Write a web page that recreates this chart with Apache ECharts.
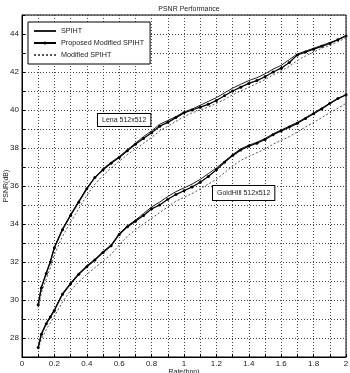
<!DOCTYPE html>
<html><head><meta charset="utf-8">
<script src="https://cdn.jsdelivr.net/npm/echarts@6/dist/echarts.min.js"></script>
<style>html,body{margin:0;padding:0;background:#fff}#c{width:350px;height:373px}</style>
</head><body><div id="c"></div>
<script>
var rates = [0.1,0.12,0.15,0.175,0.2,0.25,0.3,0.35,0.4,0.45,0.5,0.55,0.6,0.65,0.7,0.75,0.8,0.85,0.9,0.95,1.0,1.05,1.1,1.15,1.2,1.25,1.3,1.35,1.4,1.45,1.5,1.55,1.6,1.65,1.7,1.75,1.8,1.85,1.9,1.95,2.0];

var lenaSpiht = [29.8,30.7,31.45,32.05,32.8,33.75,34.5,35.2,35.9,36.45,36.9,37.25,37.55,37.9,38.25,38.6,38.9,39.25,39.45,39.65,39.9,40.05,40.25,40.45,40.65,40.9,41.15,41.35,41.55,41.7,41.9,42.15,42.35,42.65,42.95,43.1,43.25,43.4,43.55,43.7,43.9];
var lenaProposed = [29.75,30.65,31.4,32.0,32.75,33.7,34.45,35.15,35.85,36.45,36.85,37.2,37.5,37.85,38.2,38.5,38.8,39.15,39.35,39.6,39.85,40.0,40.15,40.3,40.5,40.75,41.0,41.2,41.4,41.55,41.75,42.0,42.2,42.5,42.9,43.05,43.2,43.35,43.5,43.7,43.9];
var lenaModified = [29.6,30.4,31.1,31.7,32.4,33.35,34.1,34.8,35.5,36.1,36.55,36.95,37.3,37.65,37.95,38.25,38.55,38.9,39.15,39.4,39.65,39.85,40.0,40.15,40.35,40.55,40.8,41.0,41.2,41.4,41.6,41.85,42.05,42.3,42.6,42.85,43.05,43.25,43.4,43.6,43.8];

var goldSpiht = [27.55,28.25,28.8,29.15,29.5,30.35,30.9,31.4,31.8,32.15,32.55,32.9,33.5,33.9,34.2,34.55,34.9,35.15,35.45,35.7,35.9,36.1,36.35,36.65,36.95,37.3,37.65,37.95,38.15,38.3,38.5,38.75,38.95,39.15,39.35,39.6,39.85,40.1,40.35,40.6,40.8];
var goldProposed = [27.5,28.2,28.75,29.1,29.45,30.3,30.85,31.35,31.75,32.1,32.5,32.85,33.45,33.85,34.15,34.45,34.8,35.0,35.3,35.55,35.75,35.95,36.2,36.5,36.85,37.25,37.6,37.9,38.1,38.25,38.45,38.7,38.9,39.1,39.3,39.55,39.8,40.05,40.35,40.6,40.8];
var goldModified = [27.4,27.95,28.45,28.8,29.15,29.9,30.5,30.95,31.35,31.7,32.05,32.4,32.9,33.35,33.7,34.0,34.3,34.6,34.9,35.2,35.4,35.6,35.85,36.1,36.35,36.7,37.05,37.35,37.55,37.75,37.95,38.2,38.4,38.6,38.85,39.1,39.35,39.6,39.85,40.1,40.35];

var xTickLabels = ['0','0.2','0.4','0.6','0.8','1','1.2','1.4','1.6','1.8','2'];
var yTickLabels = ['28','30','32','34','36','38','40','42','44'];
var seriesNames = ['SPIHT','Proposed Modified SPIHT','Modified SPIHT'];
var chartTitle = 'PSNR Performance';
var xName = 'Rate(bpp)';
var yName = 'PSNR(dB)';
var lenaLabel = 'Lena 512x512';
var goldLabel = 'GoldHill 512x512';

function pairs(v){ return rates.map(function(r,i){ return [r, v[i]]; }); }
var FONT = 'Liberation Sans, Arial, sans-serif';

var chart = echarts.init(document.getElementById('c'), null, {renderer:'canvas'});
function spiht(name, data){
  return {name: name, type:'line', data: data, symbol:'none',
    lineStyle:{color:'#222', width:1}, itemStyle:{color:'#222'}, z:3, animation:false};
}
function proposed(name, data){
  return {name: name, type:'line', data: data, symbol:'circle', symbolSize:3, showAllSymbol:true,
    lineStyle:{color:'#000', width:1.3}, itemStyle:{color:'#000'}, z:4, animation:false};
}
function modified(name, data){
  return {name: name, type:'line', data: data, symbol:'none',
    lineStyle:{color:'#555', width:1, type:[2,2]}, itemStyle:{color:'#555'}, z:2, animation:false};
}

chart.setOption({
  backgroundColor:'#fff',
  animation:false,
  title:{text: chartTitle, left: 184, top: 1, textAlign:'center',
    textStyle:{fontSize:7, fontWeight:'normal', color:'#222', fontFamily:FONT}},
  legend:{
    data:[
      {name: seriesNames[0], itemStyle:{opacity:0}},
      {name: seriesNames[1]},
      {name: seriesNames[2], itemStyle:{opacity:0}}
    ],
    orient:'vertical', left:28, top:22, padding:[5,6,5,5], itemGap:4,
    itemWidth:22, itemHeight:4, backgroundColor:'#fff', borderColor:'#000', borderWidth:1,
    textStyle:{fontSize:7.2, lineHeight:8, color:'#222', fontFamily:FONT}
  },
  grid:{left:22, right:4, top:15, bottom:16, outerBoundsMode:'none', containLabel:false,
    show:true, borderColor:'#000', borderWidth:1, backgroundColor:'#fff'},
  xAxis:{type:'value', min:0, max:2, interval:0.1,
    name: xName, nameLocation:'middle', nameGap:12, nameMoveOverlap:false,
    nameTextStyle:{fontSize:7, color:'#222', fontFamily:FONT},
    axisLine:{show:true, lineStyle:{color:'#000', width:1}},
    axisTick:{show:true, inside:true, length:3, lineStyle:{color:'#000'}},
    axisLabel:{fontSize:8, color:'#222', fontFamily:FONT, margin:3,
      formatter:function(v){ var k=Math.round(v*10); if(k%2) return ''; return xTickLabels[k/2]; }},
    splitLine:{show:true, lineStyle:{color:'#444', width:1, type:[1,2]}}
  },
  yAxis:{type:'value', min:27, max:45, interval:1,
    name: yName, nameLocation:'middle', nameGap:12, nameRotate:90, nameMoveOverlap:false,
    nameTextStyle:{fontSize:7, color:'#222', fontFamily:FONT},
    axisLine:{show:true, lineStyle:{color:'#000', width:1}},
    axisTick:{show:true, inside:true, length:3, lineStyle:{color:'#000'}},
    axisLabel:{fontSize:8, color:'#222', fontFamily:FONT, margin:3,
      formatter:function(v){ var k=Math.round(v); if(k%2) return ''; return yTickLabels[(k-28)/2]; }},
    splitLine:{show:true, lineStyle:{color:'#444', width:1, type:[1,2]}}
  },
  graphic:[
    {type:'text', left:97, top:113, z:10, style:{text: lenaLabel, fontSize:7, fill:'#222', fontFamily:FONT,
      backgroundColor:'#fff', borderColor:'#000', borderWidth:1, padding:[3,4,2,4]}},
    {type:'text', left:212, top:185, z:10, style:{text: goldLabel, fontSize:7, fill:'#222', fontFamily:FONT,
      backgroundColor:'#fff', borderColor:'#000', borderWidth:1, padding:[4,4,3,4]}}
  ],
  series:[
    spiht(seriesNames[0], pairs(lenaSpiht)),
    proposed(seriesNames[1], pairs(lenaProposed)),
    modified(seriesNames[2], pairs(lenaModified)),
    spiht(seriesNames[0], pairs(goldSpiht)),
    proposed(seriesNames[1], pairs(goldProposed)),
    modified(seriesNames[2], pairs(goldModified))
  ]
});
</script></body></html>
